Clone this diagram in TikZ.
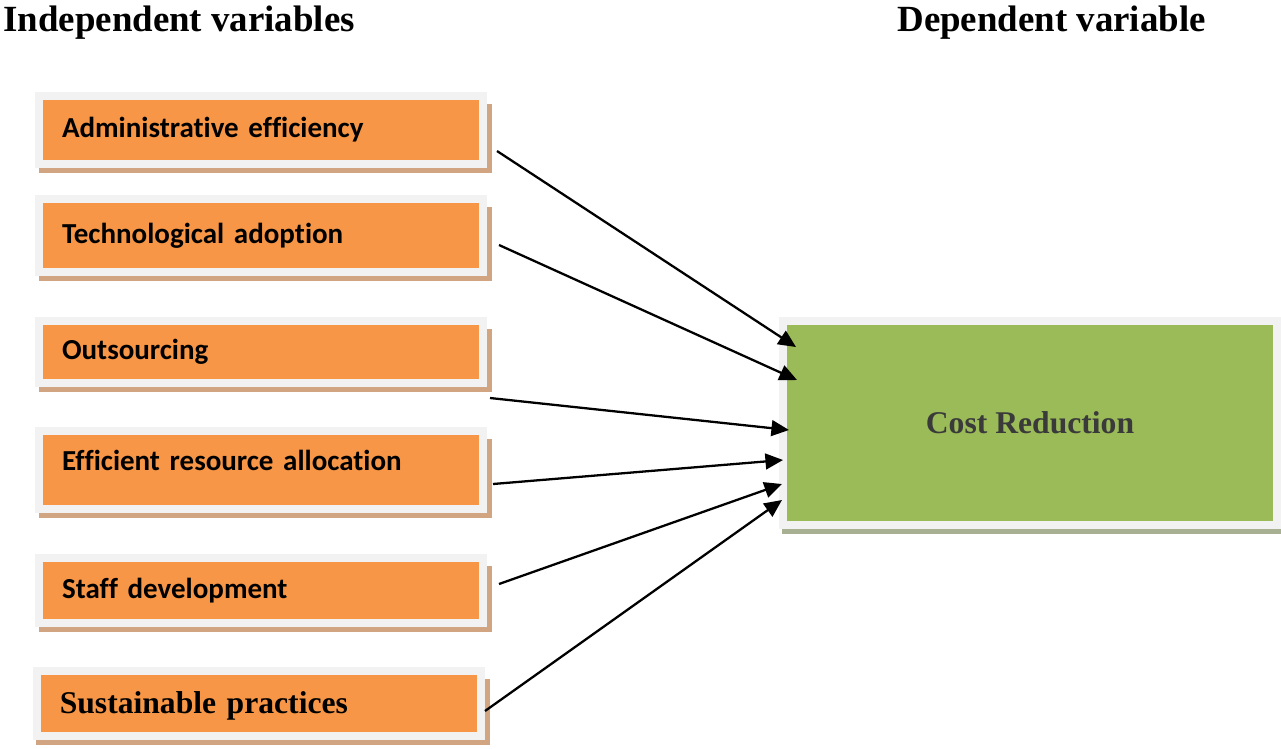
\documentclass[tikz,border=0pt]{standalone}
\usepackage{fontspec}
\usepackage{xcolor}
\usepackage{tikz}
\usetikzlibrary{shadows}
\usetikzlibrary{arrows.meta}
\usetikzlibrary{calc}

\newfontfamily\boxfont[Ligatures=NoCommon, WordSpace=0.8]{Carlito}
\newfontfamily\headfont{Liberation Serif}

\definecolor{boxorange}{RGB}{247,150,70}
\definecolor{boxgreen}{RGB}{155,187,89}
\definecolor{framegray}{RGB}{242,242,242}
\definecolor{tanshade}{RGB}{210,165,130}
\definecolor{greenshade}{RGB}{168,176,148}
\definecolor{costtext}{RGB}{58,58,58}

\begin{document}
\begin{tikzpicture}[x=0.02cm, y=-0.02cm]

                \tikzstyle{factor}  = [rectangle, fill=boxorange, draw=framegray, line width=0.16cm,
                                       minimum width=8.89cm, text width=7.97cm, inner xsep=0.46cm, align=left,
                                       font=\boxfont\bfseries\fontsize{16.5}{19}\selectfont,
                                       drop shadow={shadow xshift=0.08cm, shadow yshift=-0.165cm, shadow scale=1.02, fill=tanshade, opacity=1}]
                \tikzstyle{outcome} = [rectangle, fill=boxgreen, draw=framegray, line width=0.17cm,
                                       minimum width=9.88cm, minimum height=4.08cm, text=costtext,
                                       font=\headfont\bfseries\fontsize{18}{21}\selectfont,
                                       drop shadow={shadow xshift=0.08cm, shadow yshift=-0.14cm, shadow scale=1.02, fill=greenshade, opacity=1}]
                \tikzstyle{heading} = [anchor=base west, inner sep=0pt, font=\headfont\bfseries\fontsize{21}{25}\selectfont]
                \tikzstyle{link}    = [line width=1.3pt, -{Triangle[length=10pt, width=9pt]}]

                \useasboundingbox (0,0) rectangle (1281,748);

                \node [heading](indep) at (3,31) {Independent variables};
                \node [heading](dep) at (897,31) {Dependent variable};

                \node [factor, minimum height=1.36cm](adm) at (261.25,130) {Administrative efficiency};
                \node [factor, minimum height=1.46cm](tech) at (261.25,235.5) {Technological adoption};
                \node [factor, minimum height=1.24cm](outs) at (261.25,352) {Outsourcing};
                \node [factor, minimum height=1.56cm, text depth=0.4cm](alloc) at (261.25,470) {Efficient resource allocation};
                \node [factor, minimum height=1.30cm](staff) at (261.25,590.5) {Staff development};
                \node [factor, minimum height=1.30cm, text depth=0.05cm, font=\headfont\bfseries\fontsize{18}{21}\selectfont](sust) at (259,703.5) {Sustainable practices};

                \node [outcome](cost) at (1030,423) {Cost Reduction};

                \coordinate (s1) at (497,151);
                \coordinate (s2) at (499,245);
                \coordinate (s3) at (490,398);
                \coordinate (s4) at (493,484);
                \coordinate (s5) at (499,584);
                \coordinate (s6) at (485,711);
                \coordinate (t1) at (796,347);
                \coordinate (t2) at (797,380);
                \coordinate (t3) at (789,430);
                \coordinate (t4) at (783,460);
                \coordinate (t5) at (782,484);
                \coordinate (t6) at (782,500);

                \draw [link] (s1) -- (t1);
                \draw [link] (s2) -- (t2);
                \draw [link] (s3) -- (t3);
                \draw [link] (s4) -- (t4);
                \draw [link] (s5) -- (t5);
                \draw [link] (s6) -- (t6);
\end{tikzpicture}
\end{document}
